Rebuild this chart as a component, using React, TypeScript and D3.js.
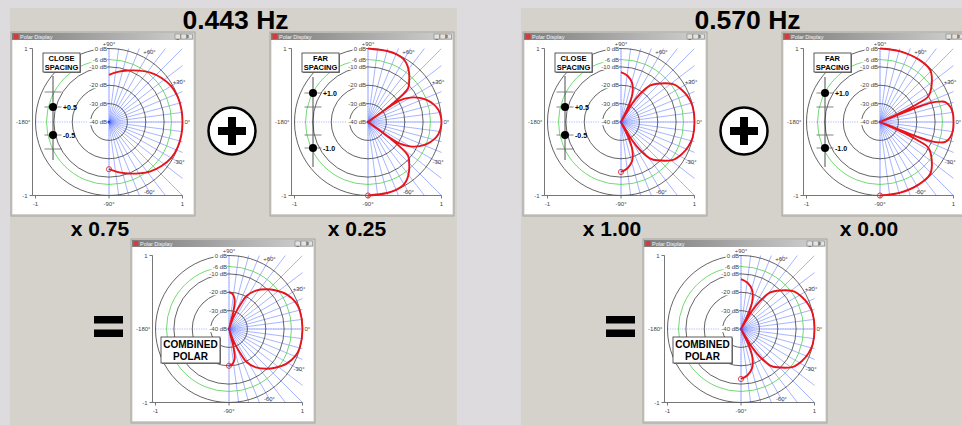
import React from "react";
import * as d3 from "d3";

const W = 962;
const H = 425;
const PANEL_SHIFT = 512;

const frequencyTitles = ["0.443 Hz", "0.570 Hz"];
const closeWeightLabels = ["x 0.75", "x 1.00"];
const farWeightLabels = ["x 0.25", "x 0.00"];

// dB rings of the polar grid
const ringDb = [0, -6, -10, -20, -30];
const ringLabels = ["0 dB", "-6 dB", "-10 dB", "-20 dB", "-30 dB"];
const gridAngles = d3.range(-90, 90.01, 7.5);
const angleLabels = ["+60°", "+30°", "-30°", "-60°"];
const angleLabelAngles = [60, 30, -30, -60];

// Close spacing, 0.443 Hz
const close443Angles = [90, 80, 70, 60, 50, 40, 30, 20, 10, 0, -10, -20, -30, -40, -50, -60, -70, -80, -90];
const close443Db = [-14.3, -12.3, -10.2, -7.7, -4.9, -2.7, -0.9, -0.2, 0, 0, 0, -0.2, -0.9, -2.7, -4.9, -7.7, -10.2, -12.3, -14.3];

// Far spacing, 0.443 Hz
const far443Angles = [90, 75, 67, 60, 55, 50, 45, 40, 36.5, 35.3, 34.2, 30, 25, 20, 15, 10, 5, 0, -5, -10, -15, -20, -25, -30, -34.2, -35.3, -36.5, -40, -45, -50, -55, -60, -67, -75, -90];
const far443Db = [0, 0, 0, -0.8, -2.6, -5.2, -8.3, -11.6, -25, -40, -19, -13.5, -8.9, -5.5, -3.0, -1.2, -0.3, 0, -0.3, -1.2, -3.0, -5.5, -8.9, -13.5, -19, -40, -25, -11.6, -8.3, -5.2, -2.6, -0.8, 0, 0, 0];

// Combined, 0.443 Hz
const comb443Angles = [90, 85, 80, 78, 76, 72.5, 70.5, 68, 65, 62, 55, 46.5, 40, 31, 22, 15, 0, -15, -22, -31, -40, -46.5, -55, -62, -65, -68, -70.5, -72.5, -76, -78, -80, -85, -90];
const comb443Db = [-20, -20.6, -23, -25, -30, -40, -35, -31, -25.5, -19.7, -14.5, -10.2, -7.2, -3.4, -1, -0.2, 0, -0.2, -1, -3.4, -7.2, -10.2, -14.5, -19.7, -25.5, -31, -35, -40, -30, -25, -23, -20.6, -20];

// Close spacing, 0.570 Hz (also the combined result, weight 1.00)
const close570Angles = [90, 82, 74, 68, 64.5, 61.5, 58.5, 55.7, 51.3, 46.8, 36, 28, 20, 12, 0, -12, -20, -28, -36, -46.8, -51.3, -55.7, -58.5, -61.5, -64.5, -68, -74, -82, -90];
const close570Db = [-12.8, -14.6, -18, -23.5, -30, -40, -28, -21.4, -14.5, -11.4, -5, -2.6, -1, -0.1, 0, -0.1, -1, -2.6, -5, -11.4, -14.5, -21.4, -28, -40, -30, -23.5, -18, -14.6, -12.8];

// Far spacing, 0.570 Hz
const far570Angles = [90, 74, 58, 46, 36.6, 28, 26, 24.5, 23, 21.5, 20.5, 19, 17, 12, 6, 0, -6, -12, -17, -19, -20.5, -21.5, -23, -24.5, -26, -28, -36.6, -46, -58, -74, -90];
const far570Db = [0, 0, 0, -0.7, -4.9, -10.2, -17, -26, -40, -17, -10, -6, -2.8, -0.8, 0, 0, 0, -0.8, -2.8, -6, -10, -17, -40, -26, -17, -10.2, -4.9, -0.7, 0, 0, 0];

const FONT = "'Liberation Sans', Arial, Helvetica, sans-serif";

type Kind = "close" | "far" | "combined";

function PolarWindow(props: { cx: number; cy: number; angles: number[]; db: number[]; kind: Kind; uid: string }) {
  const { cx, cy, angles, db, kind, uid } = props;
  const R = 73.5;
  const x = d3.scaleLinear().domain([-1, 1]).range([cx - R, cx + R]);
  const y = d3.scaleLinear().domain([-1, 1]).range([cy + R, cy - R]);
  const r = d3.scaleLinear().domain([-40, 0]).range([0, R]).clamp(true);
  const wl = cx - 98;
  const wt = cy - 90;
  const ww = 184;
  const wh = 184;
  const toRad = (a: number) => ((90 - a) * Math.PI) / 180;
  const pts: [number, number][] = angles.map((a, i) => [a, db[i]]);
  const line = d3
    .lineRadial<[number, number]>()
    .angle((d) => toRad(d[0]))
    .radius((d) => r(d[1]))
    .curve(d3.curveCatmullRom.alpha(0.5));
  const last = pts[pts.length - 1];
  const endPt = d3.pointRadial(toRad(last[0]), r(last[1]));
  const clipId = `clip-${uid}`;
  const labelFont = 6;

  return (
    <g>
      {/* window frame */}
      <rect x={wl} y={wt} width={ww} height={wh} fill="#d4d0c8" stroke="#9a9a9a" strokeWidth={0.8} />
      <rect x={wl + 1} y={wt + 1} width={ww - 2} height={7} fill="url(#titleGrad)" />
      <rect x={wl + 2.5} y={wt + 2} width={5} height={5} fill="#d23c3c" />
      <text x={wl + 9} y={wt + 6.5} fontSize={5.5} fill="#f4f4f4" fontFamily={FONT}>Polar Display</text>
      {[0, 1, 2].map((i) => (
        <rect key={i} x={wl + ww - 20 + i * 6} y={wt + 2} width={5.5} height={5} fill="#e4e2de" stroke="#707070" strokeWidth={0.5} />
      ))}
      <text x={wl + ww - 18.5} y={wt + 6.5} fontSize={4.5} fontFamily={FONT}>_</text>
      <text x={wl + ww - 8.3} y={wt + 6.3} fontSize={4.5} fontFamily={FONT}>x</text>
      <rect x={wl + 1.5} y={wt + 8} width={ww - 3} height={wh - 10} fill="#ffffff" />

      <defs>
        <clipPath id={clipId}>
          <rect x={x(-1)} y={y(1)} width={2 * R} height={2 * R} />
        </clipPath>
      </defs>

      {/* radial lines */}
      <g clipPath={`url(#${clipId})`}>
        {gridAngles.map((a) => {
          const p = d3.pointRadial(toRad(a), 2 * R);
          return <line key={a} x1={cx} y1={cy} x2={cx + p[0]} y2={cy + p[1]} stroke="#5a74ff" strokeWidth={0.75} opacity={0.7} />;
        })}
      </g>
      {/* axis dashed lines */}
      <line x1={x(-1)} x2={x(1)} y1={cy} y2={cy} stroke="#9aa6ff" strokeWidth={0.8} strokeDasharray="1.2,1.2" />
      <line x1={cx} x2={cx} y1={y(1)} y2={y(-1)} stroke="#9aa6ff" strokeWidth={0.8} strokeDasharray="1.2,1.2" />

      {/* rings */}
      {ringDb.map((d) => (
        <circle key={d} cx={cx} cy={cy} r={r(d)} fill="none" stroke={d === -6 ? "#4fd04f" : "#3c3c3c"} strokeWidth={0.8} />
      ))}

      {/* frame axes */}
      <line x1={x(-1) - 3} x2={x(-1) - 3} y1={y(1)} y2={y(-1)} stroke="#555" strokeWidth={0.8} />
      <line x1={x(-1) - 3} x2={x(1)} y1={y(-1)} y2={y(-1)} stroke="#555" strokeWidth={0.8} />
      <line x1={x(-1) - 6} x2={x(-1) - 3} y1={y(1)} y2={y(1)} stroke="#555" strokeWidth={0.8} />
      <line x1={x(-1) - 6} x2={x(-1) - 3} y1={y(-1)} y2={y(-1)} stroke="#555" strokeWidth={0.8} />
      {[-1, 0, 1].map((v) => (
        <line key={v} x1={x(v)} x2={x(v)} y1={y(-1)} y2={y(-1) + 3} stroke="#555" strokeWidth={0.8} />
      ))}
      <g fontFamily={FONT} fontSize={labelFont} fill="#444">
        <text x={x(-1) - 8} y={y(1) + 2} textAnchor="end">1</text>
        <text x={x(-1) - 8} y={y(-1) + 2} textAnchor="end">-1</text>
        <text x={x(-1)} y={y(-1) + 10} textAnchor="middle">-1</text>
        <text x={x(1)} y={y(-1) + 10} textAnchor="middle">1</text>
        <text x={cx} y={y(-1) + 10} textAnchor="middle">-90°</text>
        <text x={cx} y={y(1) - 3} textAnchor="middle">+90°</text>
        <text x={x(1) + 2} y={cy + 2} textAnchor="start">0°</text>
        <text x={x(-1) - 5} y={cy + 2} textAnchor="end">-180°</text>
        {angleLabelAngles.map((a, i) => {
          const p = d3.pointRadial(toRad(a), R * 1.1);
          return (
            <text key={a} x={cx + p[0]} y={cy + p[1] + 2} textAnchor="middle">{angleLabels[i]}</text>
          );
        })}
        {ringDb.map((d, i) => {
          const tw = ringLabels[i].length * 3.1;
          return (
            <g key={d}>
              <rect x={cx - 3 - tw} y={cy - r(d) - 3} width={tw + 1} height={6} fill="#fff" />
              <text x={cx - 2} y={cy - r(d) + 2} textAnchor="end">{ringLabels[i]}</text>
            </g>
          );
        })}
        <rect x={cx - 3 - 18.6} y={cy - 3} width={19} height={6} fill="#fff" />
        <text x={cx - 2} y={cy + 2} textAnchor="end">-40 dB</text>
      </g>
      <circle cx={cx} cy={cy} r={1.5} fill="#2244ff" />

      {/* response */}
      <path d={line(pts) || ""} transform={`translate(${cx},${cy})`} fill="none" stroke="#e8141c" strokeWidth={1.9} strokeLinejoin="round" />
      <circle cx={cx + endPt[0]} cy={cy + endPt[1]} r={2.6} fill="none" stroke="#d02020" strokeWidth={0.8} />

      {/* legends */}
      {kind !== "combined" && (
        <g fontFamily={FONT} fontWeight="bold">
          <rect x={cx - 65} y={cy - 68} width={37} height={19} fill="#888" />
          <rect x={cx - 66} y={cy - 69} width={37} height={19} fill="#fff" stroke="#333" strokeWidth={0.8} />
          <text x={cx - 47.5} y={cy - 61} textAnchor="middle" fontSize={7.5}>{kind === "close" ? "CLOSE" : "FAR"}</text>
          <text x={cx - 47.5} y={cy - 52.5} textAnchor="middle" fontSize={7.5}>SPACING</text>
        </g>
      )}
      {kind === "close" && (
        <g>
          <line x1={cx - 56} x2={cx - 56} y1={cy - 46} y2={cy + 38} stroke="#222" strokeWidth={0.8} />
          {[-30, -15, 13, 27].map((o) => (
            <line key={o} x1={cx - 64.5} x2={cx - 47.5} y1={cy + o} y2={cy + o} stroke="#666" strokeWidth={0.8} />
          ))}
          <circle cx={cx - 56} cy={cy - 15} r={4} fill="#000" />
          <circle cx={cx - 56} cy={cy + 13} r={4} fill="#000" />
          <g fontFamily={FONT} fontWeight="bold" fontSize={7}>
            <text x={cx - 46} y={cy - 12.5}>+0.5</text>
            <text x={cx - 46} y={cy + 15.5}>-0.5</text>
          </g>
        </g>
      )}
      {kind === "far" && (
        <g>
          <line x1={cx - 55} x2={cx - 55} y1={cy - 45} y2={cy + 45} stroke="#222" strokeWidth={0.8} />
          {[-29, -15, 13, 26].map((o) => (
            <line key={o} x1={cx - 63.5} x2={cx - 46.5} y1={cy + o} y2={cy + o} stroke="#666" strokeWidth={0.8} />
          ))}
          <circle cx={cx - 55} cy={cy - 29} r={4} fill="#000" />
          <circle cx={cx - 55} cy={cy + 26} r={4} fill="#000" />
          <g fontFamily={FONT} fontWeight="bold" fontSize={7}>
            <text x={cx - 45} y={cy - 26.5}>+1.0</text>
            <text x={cx - 45} y={cy + 28.5}>-1.0</text>
          </g>
        </g>
      )}
      {kind === "combined" && (
        <g fontFamily={FONT} fontWeight="bold">
          <rect x={cx - 67} y={cy + 9} width={59} height={26} fill="#888" />
          <rect x={cx - 68} y={cy + 8} width={59} height={26} fill="#fff" stroke="#333" strokeWidth={0.8} />
          <text x={cx - 38.5} y={cy + 19} textAnchor="middle" fontSize={10}>COMBINED</text>
          <text x={cx - 38.5} y={cy + 30.5} textAnchor="middle" fontSize={10}>POLAR</text>
        </g>
      )}
    </g>
  );
}

function PlusSign(props: { cx: number; cy: number }) {
  const { cx, cy } = props;
  return (
    <g>
      <circle cx={cx} cy={cy} r={23.5} fill="#fff" stroke="#000" strokeWidth={2.5} />
      <rect x={cx - 14} y={cy - 4} width={28} height={8} fill="#000" />
      <rect x={cx - 4} y={cy - 14} width={8} height={28} fill="#000" />
    </g>
  );
}

function Panel(props: { idx: number }) {
  const { idx } = props;
  const dx = idx * PANEL_SHIFT;
  const closeA = idx === 0 ? close443Angles : close570Angles;
  const closeD = idx === 0 ? close443Db : close570Db;
  const farA = idx === 0 ? far443Angles : far570Angles;
  const farD = idx === 0 ? far443Db : far570Db;
  const combA = idx === 0 ? comb443Angles : close570Angles;
  const combD = idx === 0 ? comb443Db : close570Db;
  return (
    <g>
      <rect x={10 + dx - idx * 1} y={8} width={447} height={H - 8} fill="#d5d2cc" />
      <text x={235.5 + dx} y={28.5} textAnchor="middle" fontFamily={FONT} fontWeight="bold" fontSize={26.5} fill="#000">{frequencyTitles[idx]}</text>
      <PolarWindow cx={109 + dx} cy={122} angles={closeA} db={closeD} kind="close" uid={`c${idx}`} />
      <PolarWindow cx={368 + dx} cy={122} angles={farA} db={farD} kind="far" uid={`f${idx}`} />
      <PolarWindow cx={229 + dx} cy={329} angles={combA} db={combD} kind="combined" uid={`m${idx}`} />
      <PlusSign cx={232 + dx} cy={131} />
      <text x={100 + dx} y={236} textAnchor="middle" fontFamily={FONT} fontWeight="bold" fontSize={21} fill="#000">{closeWeightLabels[idx]}</text>
      <text x={357 + dx} y={236} textAnchor="middle" fontFamily={FONT} fontWeight="bold" fontSize={21} fill="#000">{farWeightLabels[idx]}</text>
      <rect x={94 + dx} y={316} width={29} height={7.5} fill="#000" />
      <rect x={94 + dx} y={329.5} width={29} height={7.5} fill="#000" />
    </g>
  );
}

export default function App() {
  return (
    <svg width={W} height={H} style={{ position: "absolute", left: 0, top: 0, display: "block" }}>
      <defs>
        <linearGradient id="titleGrad" x1="0" x2="1" y1="0" y2="0">
          <stop offset="0" stopColor="#7d7d7d" />
          <stop offset="1" stopColor="#d2d2d2" />
        </linearGradient>
      </defs>
      <rect x={0} y={0} width={W} height={H} fill="#dddbde" />
      <Panel idx={0} />
      <Panel idx={1} />
    </svg>
  );
}
